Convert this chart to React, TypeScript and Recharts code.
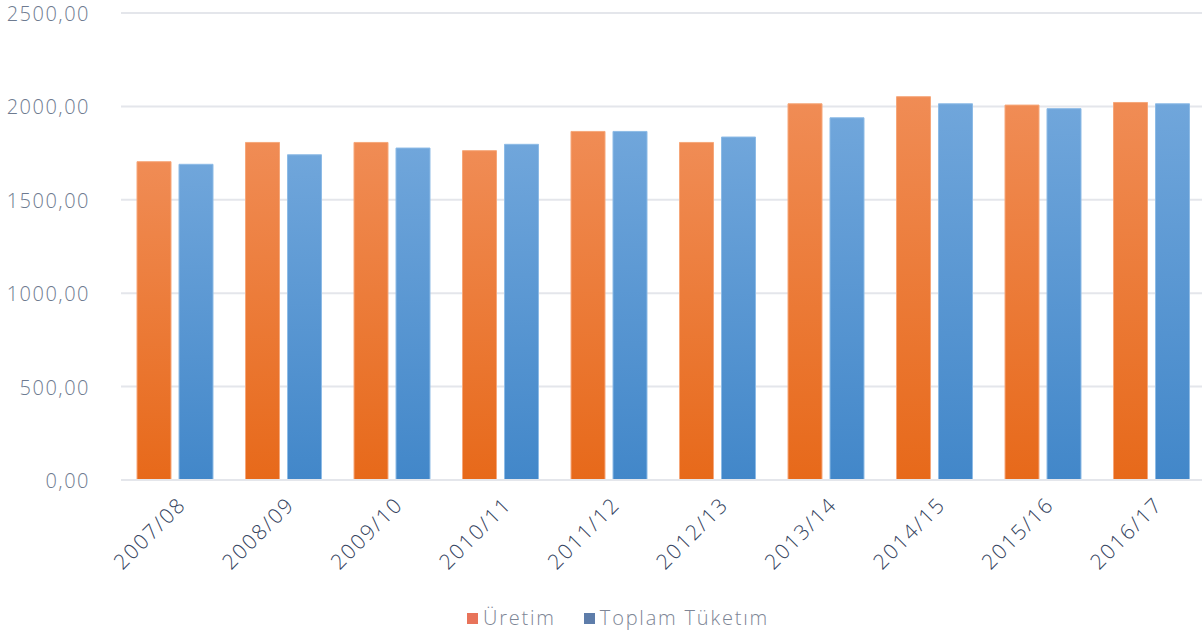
import { BarChart, Bar, XAxis, YAxis, CartesianGrid, Legend } from "recharts";

const seasons = [
  "2007/08", "2008/09", "2009/10", "2010/11", "2011/12",
  "2012/13", "2013/14", "2014/15", "2015/16", "2016/17",
];
const uretim = [1704, 1807, 1807, 1763, 1866, 1807, 2014, 2052, 2007, 2021];
const tuketim = [1690, 1741, 1777, 1797, 1866, 1836, 1939, 2014, 1988, 2014];
const yTicks = [0, 500, 1000, 1500, 2000, 2500];

const data = seasons.map((s, i) => ({ season: s, uretim: uretim[i], tuketim: tuketim[i] }));

const FONT = "'Open Sans', sans-serif";

const fmt = (v: number) => v.toFixed(2).replace(".", ",");

function XTick(props: any) {
  const { x, y, payload } = props;
  const tx = x + 12;
  const ty = y + 18;
  return (
    <text
      x={tx}
      y={ty}
      transform={`rotate(-45, ${tx}, ${ty})`}
      textAnchor="end"
      fontFamily={FONT}
      fontSize={21}
      fontWeight={300}
      letterSpacing={1.8}
      fill="#34435E"
    >
      {payload.value}
    </text>
  );
}

function YTick(props: any) {
  const { x, y, payload } = props;
  return (
    <text
      x={x}
      y={y}
      dy={8}
      textAnchor="end"
      fontFamily={FONT}
      fontSize={20}
      fontWeight={300}
      letterSpacing={1.5}
      fill="#6E7B90"
    >
      {fmt(payload.value)}
    </text>
  );
}

const legendItems = [
  { label: "Üretim", color: "#E8735A" },
  { label: "Toplam Tüketım", color: "#5E7DAA" },
];

function LegendBox() {
  return (
    <div
      style={{
        display: "flex",
        justifyContent: "center",
        gap: 28,
        paddingTop: 12,
        paddingLeft: 30,
        fontFamily: FONT,
        fontSize: 20,
        fontWeight: 300,
        letterSpacing: 1.8,
        color: "#7E8696",
        lineHeight: "26px",
      }}
    >
      {legendItems.map((it) => (
        <span key={it.label} style={{ display: "flex", alignItems: "center" }}>
          <span style={{ width: 11, height: 11, background: it.color, marginRight: 5, display: "inline-block" }} />
          {it.label}
        </span>
      ))}
    </div>
  );
}

export default function App() {
  return (
    <div style={{ position: "absolute", left: 0, top: 0, width: 1202, height: 633, background: "#fff", overflow: "hidden" }}>
      <svg width={0} height={0} style={{ position: "absolute" }}>
        <defs>
          <linearGradient id="gOrange" x1="0" y1="0" x2="0" y2="1">
            <stop offset="0%" stopColor="#F08C55" />
            <stop offset="100%" stopColor="#E7691A" />
          </linearGradient>
          <linearGradient id="gBlue" x1="0" y1="0" x2="0" y2="1">
            <stop offset="0%" stopColor="#70A6DB" />
            <stop offset="100%" stopColor="#4287C9" />
          </linearGradient>
        </defs>
      </svg>
      <BarChart
        width={1206}
        height={633}
        data={data}
        margin={{ top: 13, right: 0, bottom: 0, left: 0 }}
        barCategoryGap={16}
        barGap={8}
      >
        <CartesianGrid vertical={false} stroke="#E4E6EB" strokeWidth={2} />
        <XAxis
          dataKey="season"
          axisLine={{ stroke: "#E4E6EB", strokeWidth: 2 }}
          tickLine={false}
          interval={0}
          height={113}
          tick={<XTick />}
        />
        <YAxis
          domain={[0, 2500]}
          ticks={yTicks}
          width={121}
          axisLine={false}
          tickLine={false}
          tickSize={0}
          tickMargin={31}
          tick={<YTick />}
        />
        <Legend content={<LegendBox />} verticalAlign="bottom" height={40} />
        <Bar dataKey="uretim" name="Üretim" fill="url(#gOrange)" stroke="#F6A77A" strokeWidth={1} isAnimationActive={false} />
        <Bar dataKey="tuketim" name="Toplam Tüketım" fill="url(#gBlue)" stroke="#8DBBE6" strokeWidth={1} isAnimationActive={false} />
      </BarChart>
    </div>
  );
}
